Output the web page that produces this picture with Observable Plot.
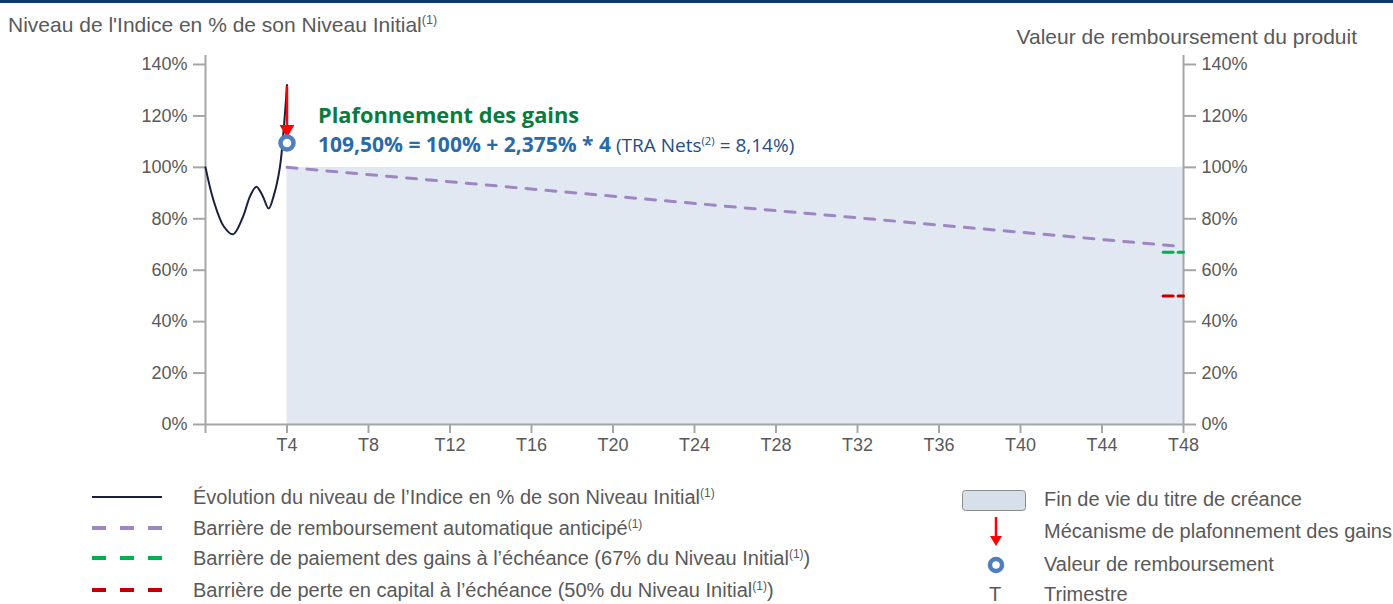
<!DOCTYPE html>
<html><head><meta charset="utf-8">
<script src="https://cdn.jsdelivr.net/npm/d3@7"></script>
<script src="https://cdn.jsdelivr.net/npm/@observablehq/plot@0.6"></script>
<style>
body{margin:0;background:#fff;}
#wrap{position:relative;width:1393px;height:604px;overflow:hidden;font-family:"Liberation Sans",Arial,sans-serif;color:#595959;}
#topline{position:absolute;left:0;top:0;width:1393px;height:3px;background:#0d3a6e;}
.t{position:absolute;white-space:nowrap;transform:translateY(-50%);line-height:1;}
sup{font-size:0.6em;vertical-align:0.6em;line-height:0;}
#chart{position:absolute;left:0;top:0;}
.sw{position:absolute;}
</style></head>
<body><div id="wrap">
<div id="topline"></div>
<div id="chart"></div>
<div class="t" style="left:8px;top:24px;font-size:21px">Niveau de l'Indice en % de son Niveau Initial<sup>(1)</sup></div>
<div class="t" style="right:36px;top:36px;font-size:21px">Valeur de remboursement du produit</div>
<div class="t" style="left:318px;top:115px;font-family:'Open Sans';font-weight:700;font-size:21.8px;color:#0a7a3e">Plafonnement des gains</div>
<div class="t" style="left:318px;top:144px;font-family:'Open Sans';font-size:19px;color:#1f4e86"><b style="color:#2a6aa8;font-size:21px">109,50% = 100% + 2,375% * 4</b> (TRA Nets<sup>(2)</sup> = 8,14%)</div>
<div id="legend"></div>
</div>
<script>
// ---- data ----
const indexT   = [0, 0.4, 0.9, 1.35, 1.8, 2.2, 2.5, 2.8, 3.1, 3.35, 3.65, 3.85, 4.0];
const indexVal = [100, 87, 77, 74, 80, 89, 92.5, 89, 84, 89, 100, 116, 132];
const barrierT   = [4, 47.5];
const barrierVal = [100, 69.5];
const gainBarrierT = [47, 48];
const gainBarrierVal = [67, 67];
const lossBarrierT = [47, 48];
const lossBarrierVal = [50, 50];
const lifeSpan = [{x1: 4, x2: 48, y1: 0, y2: 100}];
const redemption = [{t: 4, v: 109.5}];
const capArrow = [{t: 4, from: 131.5, to: 116}];
const yTicks = [0, 20, 40, 60, 80, 100, 120, 140];
const xTicks = [0, 4, 8, 12, 16, 20, 24, 28, 32, 36, 40, 44, 48];
const xTickLabels = ["", "T4", "T8", "T12", "T16", "T20", "T24", "T28", "T32", "T36", "T40", "T44", "T48"];

const zip = (a, b) => a.map((t, i) => ({t, v: b[i]}));
const axisGray = "#a6a6a6";
const chart = Plot.plot({
  width: 1393, height: 470,
  marginLeft: 205, marginRight: 210, marginTop: 64, marginBottom: 46,
  x: {domain: [0, 48]},
  y: {domain: [0, 140]},
  style: {fontFamily: "'Liberation Sans', Arial, sans-serif", fontSize: "18px", color: "#595959", background: "transparent", overflow: "visible"},
  marks: [
    Plot.rect(lifeSpan, {x1: "x1", x2: "x2", y1: "y1", y2: "y2", fill: "#e1e8f2"}),
    Plot.ruleX([0, 48], {stroke: axisGray, strokeWidth: 2, insetTop: -9}),
    Plot.ruleY([0], {stroke: axisGray, strokeWidth: 2}),
    Plot.axisY({anchor: "left", ticks: yTicks, tickFormat: d => d + "%", tickSize: 12, tickPadding: 6, stroke: axisGray, strokeWidth: 2, label: null}),
    Plot.axisY({anchor: "right", ticks: yTicks, tickFormat: d => d + "%", tickSize: 12, tickPadding: 6, stroke: axisGray, strokeWidth: 2, label: null}),
    Plot.axisX({ticks: xTicks, tickFormat: d => xTickLabels[xTicks.indexOf(d)], tickSize: 9, tickPadding: 5, stroke: axisGray, strokeWidth: 2, label: null}),
    Plot.line(zip(barrierT, barrierVal), {x: "t", y: "v", stroke: "#9d86c2", strokeWidth: 3, strokeDasharray: "10,10"}),
    Plot.line(zip(gainBarrierT, gainBarrierVal), {x: "t", y: "v", stroke: "#00b050", strokeWidth: 3, strokeDasharray: "10,5"}),
    Plot.line(zip(lossBarrierT, lossBarrierVal), {x: "t", y: "v", stroke: "#c00000", strokeWidth: 3, strokeDasharray: "10,5"}),
    Plot.line(zip(indexT, indexVal), {x: "t", y: "v", curve: "catmull-rom", stroke: "#1a1f3d", strokeWidth: 2}),
    Plot.ruleX(capArrow, {x: "t", y1: "from", y2: "to", stroke: "#ff0000", strokeWidth: 2.5}),
    Plot.dot(capArrow, {x: "t", y: "to", symbol: "triangle", rotate: 180, r: 5.5, fill: "#ff0000", dy: 3}),
    Plot.dot(redemption, {x: "t", y: "v", r: 6.5, stroke: "#4f7fbf", strokeWidth: 4.5, fill: "#fff"})
  ]
});
document.getElementById("chart").appendChild(chart);

// ---- legend ----
const leftItems = [
  {label: "Évolution du niveau de l’Indice en % de son Niveau Initial<sup>(1)</sup>", color: "#1a1f3d", dash: null},
  {label: "Barrière de remboursement automatique anticipé<sup>(1)</sup>", color: "#9d86c2", dash: "14,14"},
  {label: "Barrière de paiement des gains à l’échéance (67% du Niveau Initial<sup>(1)</sup>)", color: "#00b050", dash: "14,14"},
  {label: "Barrière de perte en capital à l’échéance (50% du Niveau Initial<sup>(1)</sup>)", color: "#c00000", dash: "14,14"}
];
const rightItems = ["Fin de vie du titre de créance", "Mécanisme de plafonnement des gains", "Valeur de remboursement", "Trimestre"];
const leftRows = [497, 528, 558, 590];
const rightRows = [499, 531, 564, 594];
const leg = document.getElementById("legend");
let html = "";
leftItems.forEach((it, i) => {
  const y = leftRows[i];
  html += `<svg class="sw" style="left:90px;top:${y-5}px" width="76" height="10"><line x1="2" x2="72" y1="5" y2="5" stroke="${it.color}" stroke-width="${it.dash ? 4 : 2}" ${it.dash ? `stroke-dasharray="${it.dash}"` : ""}/></svg>`;
  html += `<div class="t" style="left:193px;top:${y}px;font-size:20px">${it.label}</div>`;
});
html += `<svg class="sw" style="left:960px;top:488px" width="70" height="26"><rect x="2.5" y="2.5" width="63" height="20" rx="3" fill="#d5e0eb" stroke="#8c8c8c" stroke-width="1"/></svg>`;
html += `<svg class="sw" style="left:986px;top:515px" width="20" height="34"><line x1="10" x2="10" y1="2" y2="24" stroke="#ff0000" stroke-width="2.5"/><path d="M4,21 L16,21 L10,31 Z" fill="#ff0000"/></svg>`;
html += `<svg class="sw" style="left:986px;top:555px" width="20" height="20"><circle cx="10" cy="10" r="6" fill="#fff" stroke="#4f7fbf" stroke-width="4.5"/></svg>`;
html += `<div class="t" style="left:989px;top:594px;font-size:20px">T</div>`;
rightItems.forEach((s, i) => {
  html += `<div class="t" style="left:1044px;top:${rightRows[i]}px;font-size:20px">${s}</div>`;
});
leg.innerHTML = html;
</script>
</body></html>
